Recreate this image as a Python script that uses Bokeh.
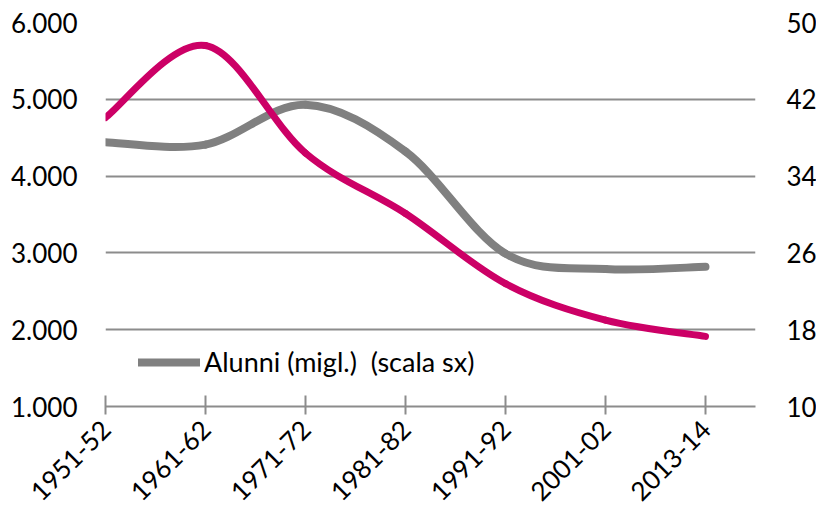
import math
from bokeh.plotting import figure
from bokeh.models import (Range1d, LinearAxis, FixedTicker, Legend, LegendItem,
                          ColumnDataSource)
from bokeh.embed import file_html
from bokeh.resources import INLINE

# ---- data ----
categories = ["1951-52", "1961-62", "1971-72", "1981-82", "1991-92", "2001-02", "2013-14"]
alunni = [4440, 4410, 4930, 4320, 2990, 2790, 2820]          # left scale (migl.)
series_dx = [40.1, 47.6, 36.4, 30.1, 22.8, 19.0, 17.3]       # right scale
left_ticks = [1000, 2000, 3000, 4000, 5000, 6000]
left_labels = ["1.000", "2.000", "3.000", "4.000", "5.000", "6.000"]
right_ticks = [10, 18, 26, 34, 42, 50]
legend_label = "Alunni (migl.)  (scala sx)"

FONT = "Lato"
FS = "26px"
GRID = "#8c8c8c"


def smooth(xs, ys):
    """Bezier control points for a Catmull-Rom style smoothed line."""
    n = len(xs)
    d = dict(x0=[], y0=[], x1=[], y1=[], cx0=[], cy0=[], cx1=[], cy1=[])
    for i in range(n - 1):
        a = i - 1 if i > 0 else i
        b = i + 2 if i + 2 < n else i + 1
        d["x0"].append(xs[i]); d["y0"].append(ys[i])
        d["x1"].append(xs[i + 1]); d["y1"].append(ys[i + 1])
        d["cx0"].append(xs[i] + (xs[i + 1] - xs[a]) / 6)
        d["cy0"].append(ys[i] + (ys[i + 1] - ys[a]) / 6)
        d["cx1"].append(xs[i + 1] - (xs[b] - xs[i]) / 6)
        d["cy1"].append(ys[i + 1] - (ys[b] - ys[i]) / 6)
    return ColumnDataSource(d)


xpos = list(range(len(categories)))

p = figure(frame_width=650, frame_height=384, output_backend="svg", toolbar_location=None,
           x_range=Range1d(0, 6.5), y_range=Range1d(1000, 6000),
           min_border_left=105, min_border_right=0, min_border_top=22,
           min_border_bottom=0)
p.outline_line_color = None
p.background_fill_color = "white"
p.border_fill_color = "white"

p.extra_y_ranges = {"right": Range1d(10, 50)}

# grid
p.xgrid.visible = False
p.ygrid.ticker = FixedTicker(ticks=left_ticks[1:])
p.ygrid.grid_line_color = GRID
p.ygrid.grid_line_width = 2

# left axis
ya = p.yaxis[0]
ya.ticker = FixedTicker(ticks=left_ticks)
ya.major_label_overrides = {t: l for t, l in zip(left_ticks, left_labels)}
ya.axis_line_color = None
ya.major_tick_line_color = None
ya.minor_tick_line_color = None
ya.major_label_standoff = 22
ya.major_label_text_font = FONT
ya.major_label_text_font_size = FS
ya.major_label_text_color = "black"

# right axis
ra = LinearAxis(y_range_name="right", ticker=FixedTicker(ticks=right_ticks))
ra.axis_line_color = None
ra.major_tick_line_color = None
ra.minor_tick_line_color = None
ra.major_label_standoff = 25
ra.major_label_text_font = FONT
ra.major_label_text_font_size = FS
ra.major_label_text_color = "black"
p.add_layout(ra, "right")

# bottom axis
xa = p.xaxis[0]
xa.ticker = FixedTicker(ticks=xpos)
xa.major_label_overrides = {i: c for i, c in zip(xpos, categories)}
xa.major_label_orientation = math.pi / 4
xa.axis_line_color = GRID
xa.axis_line_width = 2
xa.major_tick_line_color = GRID
xa.major_tick_line_width = 2
xa.major_tick_in = 11
xa.major_tick_out = 8
xa.minor_tick_line_color = None
xa.major_label_standoff = 10
xa.major_label_text_font = FONT
xa.major_label_text_font_size = FS
xa.major_label_text_color = "black"

# lines
g = p.bezier(x0="x0", y0="y0", x1="x1", y1="y1", cx0="cx0", cy0="cy0",
             cx1="cx1", cy1="cy1", source=smooth(xpos, alunni),
             line_color="#808080", line_width=8, line_cap="round")
m = p.bezier(x0="x0", y0="y0", x1="x1", y1="y1", cx0="cx0", cy0="cy0",
             cx1="cx1", cy1="cy1", source=smooth(xpos, series_dx),
             line_color="#CC0066", line_width=7, line_cap="round",
             y_range_name="right")

legend = Legend(items=[LegendItem(label=legend_label, renderers=[g])],
                location=(33, 28), orientation="vertical",
                glyph_width=62, glyph_height=20, label_standoff=4,
                padding=0, margin=0, spacing=0,
                label_text_font=FONT, label_text_font_size="27px",
                label_text_color="black",
                background_fill_alpha=0, border_line_color=None)
p.add_layout(legend)

open("out.html", "w").write(file_html(p, INLINE))
